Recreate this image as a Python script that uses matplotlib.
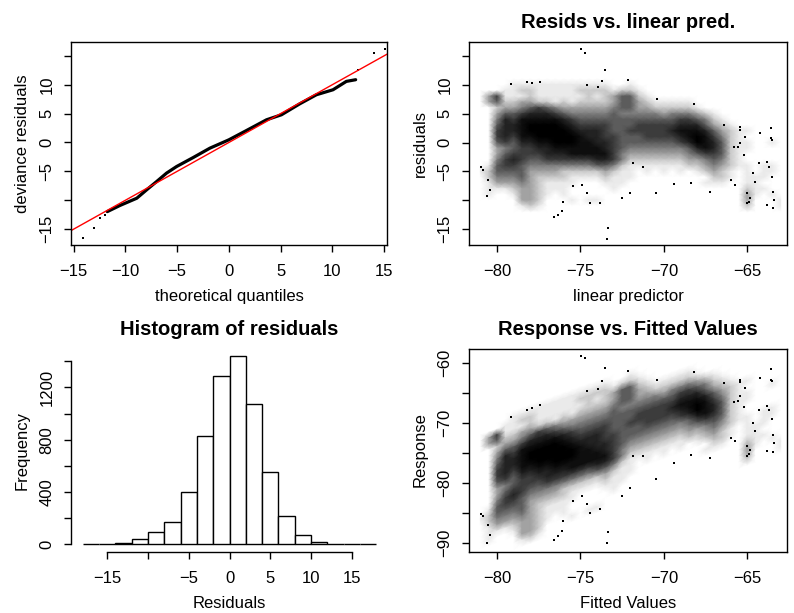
import numpy as np
import matplotlib
matplotlib.use("Agg")
import matplotlib.pyplot as plt
from matplotlib.colors import LinearSegmentedColormap

plt.rcParams['font.family'] = ['Liberation Sans', 'DejaVu Sans']
plt.rcParams['axes.linewidth'] = 1.0

# ---- QQ plot: sorted deviance residuals against theoretical quantiles ----
qq_theory = [-14.13, -13.03, -12.46, -11.97, -11.75, -10.52, -8.9, -7.95, -6.98,
             -6.02, -5.05, -3.44, -1.83, 0.0, 1.71, 3.64, 5.09, 6.86, 8.47,
             10.07, 11.36, 12.26, 12.49, 14.0, 15.13]
qq_resid = [-16.6, -14.86, -13.1, -12.5, -11.97, -10.9, -9.65, -8.2, -6.76,
            -5.3, -4.16, -2.6, -0.98, 0.46, 2.08, 3.93, 4.8, 6.7, 8.27,
            9.13, 10.58, 10.87, 12.6, 15.5, 16.2]
qq_ref_intercept = 0.0
qq_ref_slope = 1.0

# ---- histogram of residuals ----
hist_edges = list(range(-18, 19, 2))
hist_counts = [1, 1, 5, 38, 89, 170, 400, 825, 1284, 1441, 1076, 552, 213,
               66, 13, 2, 1, 1]

# ---- residual cloud: point density on a (linear predictor, residual) grid ----
# digits 0-9 give how dark the cloud is around each grid node
density_lp_start, density_lp_stop, density_lp_step = -81.0, -63.0, 0.5
density_resid_top, density_resid_bottom = 11, -12
density_rows = [
    "0000000000000000000000000000000000000",  # 11
    "0000111111111111001000000000000000000",  # 10
    "000" + "11221111122221221" + "00000000000000000",  # 9
    "036111211111121235521" + "0000000000000000",  # 8
    "03522332212122223553211111" + "00000000000",  # 7
    "002334565433333345533222221" + "0000000000",  # 6
    "00355677765444445444443444321" + "00000000",  # 5
    "004768888876555555555555665421" + "0000000",  # 4
    "0057789999876666555666667775321" + "000000",  # 3
    "006778999998777655666667888753211" + "0000",  # 2
    "00676889999987766555666678986421" + "00000",  # 1
    "0056577889998877655555556798752110010",  # 0
    "003456677888888765444444457875211" + "0000",  # -1
    "00356666777888886433333334566521" + "00000",  # -2
    "00467655666666776422222223345421" + "00000",  # -3
    "0156654444444455421111111223432110110",  # -4
    "1255553333222223211010101012321010110",  # -5
    "0244453222211112111000000000221011100",  # -6
    "0133343211110001110000000001110011000",  # -7
    "01112332111" + "00000" + "1" + "000000000000000" + "21100",  # -8
    "01001332101" + "000000000000000000000" + "31010",  # -9
    "000003320001011" + "00000000000000000" + "30001",  # -10
    "00000121" + "000000000000000000000000" + "20001",  # -11
    "0000000000000000000000000000000000000",  # -12
]

# isolated observations away from the main cloud
sparse_lp = [-74.99, -74.73, -73.53, -72.17, -79.18, -78.2, -77.88, -77.4, -74.63,
             -73.73, -73.93, -70.43, -68.22, -66.42, -65.46, -64.22, -63.58, -63.52,
             -63.6, -65.42, -65.82, -65.2, -64.3, -63.8, -63.7, -63.5, -64.66,
             -64.52, -65.02, -64.92, -64.82, -65.02, -63.82, -63.46, -63.42, -63.46,
             -65.72, -66.0, -67.22, -68.38, -69.38, -70.47, -72.03, -72.53, -73.83,
             -74.43, -76.03, -76.6, -76.33, -76.13, -73.37, -73.43, -80.6, -80.94,
             -80.84, -80.54, -80.44, -74.63, -74.93, -75.43, -71.23, -71.83, -65.58,
             -65.16, -65.42]
sparse_resid = [16.2, 15.5, 12.6, 10.85, 10.1, 10.4, 10.3, 10.4, 10.0,
                10.7, 9.6, 7.5, 6.7, 3.1, 2.65, 1.73, 2.5, 0.5,
                0.75, -0.1, -0.7, -2.1, -3.6, -3.3, -4.2, -5.9, -5.3,
                -6.75, -8.8, -10.2, -9.6, -10.5, -10.8, -8.5, -9.9, -11.4,
                -7.3, -6.5, -8.6, -7.0, -7.2, -8.8, -8.8, -9.6, -10.5,
                -10.5, -10.2, -12.8, -12.5, -11.9, -14.8, -16.6, -9.3, -4.15,
                -4.7, -6.5, -8.2, -8.8, -7.3, -7.6, -4.2, -3.6, -0.7,
                1.0, 2.2]

MINUS = "\u2212"


def fmt(v):
    return (MINUS + str(abs(v))) if v < 0 else str(v)


def r_style(ax, box=True):
    ax.tick_params(direction='out', length=5.0, width=1.0, labelsize=12)
    ax.tick_params(axis='x', pad=9)
    ax.tick_params(axis='y', pad=7)
    if not box:
        for s in ('top', 'right'):
            ax.spines[s].set_visible(False)


def set_ticks(ax, axis, ticks, shown):
    labels = [fmt(t) if t in shown else '' for t in ticks]
    if axis == 'x':
        ax.set_xticks(ticks)
        ax.set_xticklabels(labels)
    else:
        ax.set_yticks(ticks)
        ax.set_yticklabels(labels, rotation=90, va='center')


def labels(ax, xlabel, ylabel, w_px, h_px):
    ax.set_xlabel(xlabel, fontsize=12)
    ax.set_ylabel(ylabel, fontsize=12)
    ax.xaxis.set_label_coords(0.5, -52.0 / h_px)
    ax.yaxis.set_label_coords(-48.5 / w_px, 0.5)
    ax.xaxis.label.set_va('center')
    ax.yaxis.label.set_va('center')
    ax.yaxis.label.set_ha('center')


W, H = 794, 613
fig = plt.figure(figsize=(W / 100, H / 100), dpi=100)


def add_axes(x0, x1, y0, y1):
    return fig.add_axes([x0 / W, 1 - y1 / H, (x1 - x0) / W, (y1 - y0) / H])


ax1 = add_axes(71, 387, 42, 245)
ax2 = add_axes(469, 787, 42, 245)
ax3 = add_axes(71, 388, 348.5, 551.5)
ax4 = add_axes(469, 787, 348.5, 551.5)

# ---------- QQ plot ----------
th = np.array(qq_theory)
rs = np.array(qq_resid)
body = (th >= -11.8) & (th <= 12.3)
ax1.plot(th[body], rs[body], color='black', lw=2.3, solid_capstyle='round')
ax1.plot(th[~body], rs[~body], ls='none', marker='s', ms=1.6, mew=0, color='black')
ax1.axline((0, qq_ref_intercept), slope=qq_ref_slope, color='red', lw=1.0)
ax1.set_xlim(-15.26, 15.29)
ax1.set_ylim(-17.75, 17.4)
r_style(ax1)
ticks = [-15, -10, -5, 0, 5, 10, 15]
set_ticks(ax1, 'x', ticks, ticks)
set_ticks(ax1, 'y', ticks, [-15, -5, 0, 5, 10])
labels(ax1, 'theoretical quantiles', 'deviance residuals', 316, 203)

# ---------- residual clouds ----------
C = np.array([[int(ch) for ch in row] for row in density_rows], dtype=float)
lp_nodes = np.arange(density_lp_start, density_lp_stop + 1e-9, density_lp_step)
r_nodes = np.arange(density_resid_top, density_resid_bottom - 1e-9, -1.0)
LP, RR = np.meshgrid(lp_nodes, r_nodes)
ink = LinearSegmentedColormap.from_list('ink', [
    (0.0, '#ffffff'), (1 / 9, '#eaeaea'), (2 / 9, '#c8c8c8'), (3 / 9, '#a2a2a2'),
    (4 / 9, '#7e7e7e'), (5 / 9, '#5c5c5c'), (6 / 9, '#3c3c3c'), (7 / 9, '#222222'),
    (8 / 9, '#0e0e0e'), (1.0, '#000000')])
slp = np.array(sparse_lp)
srs = np.array(sparse_resid)

ax2.pcolormesh(LP, RR, C, shading='gouraud', cmap=ink, vmin=0, vmax=9, zorder=1)
ax2.plot(slp, srs, ls='none', marker='s', ms=1.6, mew=0, color='black', zorder=2)
ax2.set_xlim(-81.68, -62.62)
ax2.set_ylim(-17.72, 17.38)
r_style(ax2)
set_ticks(ax2, 'x', [-80, -75, -70, -65], [-80, -75, -70, -65])
set_ticks(ax2, 'y', ticks, [-15, -5, 0, 5, 10])
labels(ax2, 'linear predictor', 'residuals', 318, 203)
ax2.set_title('Resids vs. linear pred.', fontsize=14.5, fontweight='bold', pad=10)

ax4.pcolormesh(LP, LP + RR, C, shading='gouraud', cmap=ink, vmin=0, vmax=9, zorder=1)
ax4.plot(slp, slp + srs, ls='none', marker='s', ms=1.6, mew=0, color='black', zorder=2)
ax4.set_xlim(-81.68, -62.62)
ax4.set_ylim(-91.38, -57.62)
r_style(ax4)
set_ticks(ax4, 'x', [-80, -75, -70, -65], [-80, -75, -70, -65])
set_ticks(ax4, 'y', [-90, -85, -80, -75, -70, -65, -60], [-90, -80, -70, -60])
labels(ax4, 'Fitted Values', 'Response', 318, 203)
ax4.set_title('Response vs. Fitted Values', fontsize=14.5, fontweight='bold', pad=10)

# ---------- histogram ----------
edges = np.array(hist_edges, dtype=float)
ax3.bar(edges[:-1], hist_counts, width=np.diff(edges), align='edge',
        facecolor='white', edgecolor='black', lw=1.0)
ax3.set_xlim(-19.44, 19.44)
ax3.set_ylim(-57.6, 1498.6)
r_style(ax3, box=False)
ax3.spines['bottom'].set_bounds(-15, 15)
ax3.spines['left'].set_bounds(0, 1400)
set_ticks(ax3, 'x', ticks, [-15, -5, 0, 5, 10, 15])
set_ticks(ax3, 'y', [0, 200, 400, 600, 800, 1000, 1200, 1400], [0, 400, 800, 1200])
labels(ax3, 'Residuals', 'Frequency', 317, 203)
ax3.set_title('Histogram of residuals', fontsize=14.5, fontweight='bold', pad=10)

fig.savefig('out.png', dpi=100)
